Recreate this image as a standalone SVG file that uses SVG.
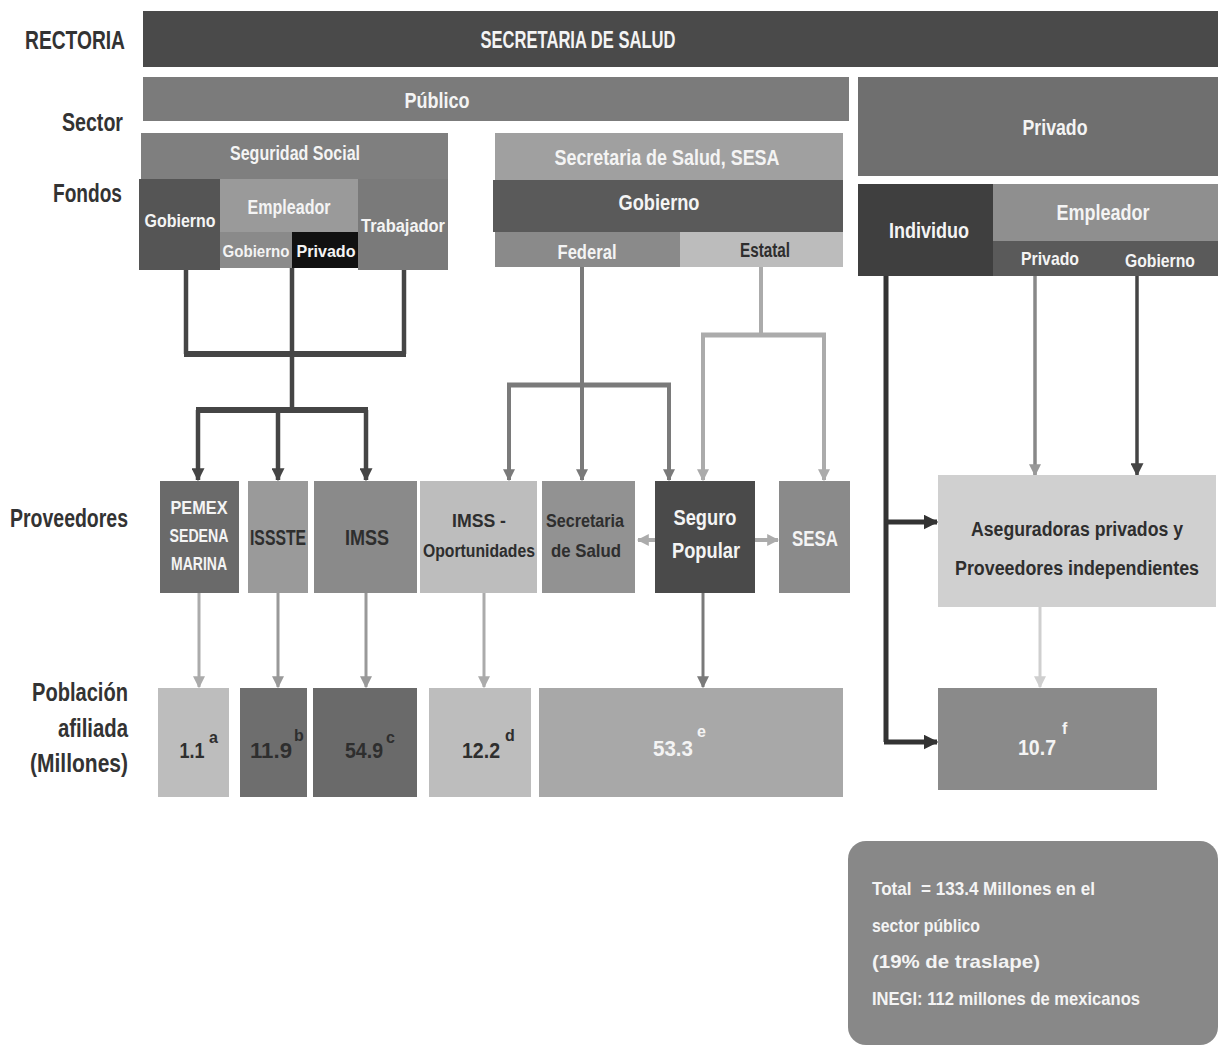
<svg xmlns="http://www.w3.org/2000/svg" width="1220" height="1047" viewBox="0 0 1220 1047">
<style>
text{font-family:"Liberation Sans",Arial,sans-serif;text-anchor:middle;font-weight:bold}
.w{fill:#f4f4f4}
.d{fill:#2e2e2e}
.lbl{fill:#333;font-size:26px;text-anchor:end}
.s{text-anchor:start}
.c{fill:none}
</style>
<defs>
<marker id="aD" viewBox="0 0 10 10" refX="9" refY="5" markerWidth="13" markerHeight="13" markerUnits="userSpaceOnUse" orient="auto"><path d="M0,0 L10,5 L0,10 z" fill="#454545"/></marker>
<marker id="aK" viewBox="0 0 10 10" refX="9" refY="5" markerWidth="15" markerHeight="15" markerUnits="userSpaceOnUse" orient="auto"><path d="M0,0 L10,5 L0,10 z" fill="#333"/></marker>
<marker id="aM" viewBox="0 0 10 10" refX="9" refY="5" markerWidth="12" markerHeight="12" markerUnits="userSpaceOnUse" orient="auto"><path d="M0,0 L10,5 L0,10 z" fill="#7a7a7a"/></marker>
<marker id="aG" viewBox="0 0 10 10" refX="9" refY="5" markerWidth="12" markerHeight="12" markerUnits="userSpaceOnUse" orient="auto"><path d="M0,0 L10,5 L0,10 z" fill="#999"/></marker>
<marker id="aL" viewBox="0 0 10 10" refX="9" refY="5" markerWidth="12" markerHeight="12" markerUnits="userSpaceOnUse" orient="auto"><path d="M0,0 L10,5 L0,10 z" fill="#ababab"/></marker>
<marker id="aX" viewBox="0 0 10 10" refX="9" refY="5" markerWidth="12" markerHeight="12" markerUnits="userSpaceOnUse" orient="auto"><path d="M0,0 L10,5 L0,10 z" fill="#cfcfcf"/></marker>
</defs>
<rect width="1220" height="1047" fill="#ffffff"/>

<g id="row-labels">
<text class="lbl" x="125" y="49" textLength="100" lengthAdjust="spacingAndGlyphs">RECTORIA</text>
<text class="lbl" x="123" y="131" textLength="61" lengthAdjust="spacingAndGlyphs">Sector</text>
<text class="lbl" x="122" y="202" textLength="69" lengthAdjust="spacingAndGlyphs">Fondos</text>
<text class="lbl" x="128" y="527" textLength="118" lengthAdjust="spacingAndGlyphs">Proveedores</text>
<text class="lbl" x="128" y="701" textLength="96" lengthAdjust="spacingAndGlyphs">Población</text>
<text class="lbl" x="128" y="737" textLength="70" lengthAdjust="spacingAndGlyphs">afiliada</text>
<text class="lbl" x="128" y="772" textLength="98" lengthAdjust="spacingAndGlyphs">(Millones)</text>
</g>

<g id="connectors">
<g stroke="#454545" stroke-width="4.5" class="c">
<path class="c" d="M186,270 V354"/>
<path class="c" d="M404,270 V354"/>
<path class="c" d="M292,268 V410"/>
<path class="c" d="M184,354 H406" stroke-width="6"/>
<path class="c" d="M196,410 H368" stroke-width="6"/>
<path class="c" d="M198,410 V480" marker-end="url(#aD)"/>
<path class="c" d="M278,410 V480" marker-end="url(#aD)"/>
<path class="c" d="M366,410 V480" marker-end="url(#aD)"/>
</g>
<g stroke="#7a7a7a" stroke-width="4" class="c">
<path class="c" d="M582,267 V480" marker-end="url(#aM)"/>
<path class="c" d="M507,385 H671" stroke-width="5"/>
<path class="c" d="M509,385 V480" marker-end="url(#aM)"/>
<path class="c" d="M669,385 V480" marker-end="url(#aM)"/>
</g>
<g stroke="#ababab" stroke-width="4" class="c">
<path class="c" d="M761,267 V335"/>
<path class="c" d="M701,335 H826" stroke-width="5"/>
<path class="c" d="M703,335 V480" marker-end="url(#aL)"/>
<path class="c" d="M824,335 V480" marker-end="url(#aL)"/>
<path class="c" d="M655,540 H638" marker-end="url(#aL)"/>
<path class="c" d="M755,540 H778" marker-end="url(#aL)"/>
</g>
<g stroke="#333" stroke-width="5" class="c">
<path class="c" d="M886,276 V742"/>
<path class="c" d="M884,522 H937" marker-end="url(#aK)"/>
<path class="c" d="M884,742 H937" marker-end="url(#aK)"/>
</g>
<path class="c" d="M1035,276 V475" stroke="#888" stroke-width="3.5" marker-end="url(#aG)"/>
<path class="c" d="M1137,276 V475" stroke="#444" stroke-width="3.5" marker-end="url(#aD)"/>
<path class="c" d="M1040,607 V687" stroke="#cfcfcf" stroke-width="3" marker-end="url(#aX)"/>
<path class="c" d="M199,593 V687" stroke="#ababab" stroke-width="3" marker-end="url(#aL)"/>
<path class="c" d="M278,593 V687" stroke="#999" stroke-width="3" marker-end="url(#aG)"/>
<path class="c" d="M366,593 V687" stroke="#999" stroke-width="3" marker-end="url(#aG)"/>
<path class="c" d="M484,593 V687" stroke="#ababab" stroke-width="3" marker-end="url(#aL)"/>
<path class="c" d="M703,593 V687" stroke="#7a7a7a" stroke-width="3" marker-end="url(#aM)"/>
</g>

<g id="rectoria"><rect x="143" y="11" width="1075" height="56" fill="#4a4a4a"/><text class="w" x="578" y="48" font-size="24" textLength="195" lengthAdjust="spacingAndGlyphs">SECRETARIA DE SALUD</text></g>
<g id="publico"><rect x="143" y="77" width="706" height="44" fill="#7b7b7b"/><text class="w" x="437" y="108" font-size="22" textLength="65" lengthAdjust="spacingAndGlyphs">Público</text></g>
<g id="privado"><rect x="858" y="77" width="360" height="99" fill="#6f6f6f"/><text class="w" x="1055" y="135" font-size="22" textLength="65" lengthAdjust="spacingAndGlyphs">Privado</text></g>

<g id="seguridad-social"><rect x="141" y="133" width="307" height="47" fill="#7f7f7f"/><text class="w" x="295" y="160" font-size="20" textLength="130" lengthAdjust="spacingAndGlyphs">Seguridad Social</text></g>
<g id="ss-gobierno"><rect x="139" y="179" width="81" height="91" fill="#555"/><text class="w" x="180" y="227" font-size="18" textLength="71" lengthAdjust="spacingAndGlyphs">Gobierno</text></g>
<g id="ss-empleador"><rect x="220" y="179" width="138" height="53" fill="#9a9a9a"/><text class="w" x="289" y="214" font-size="20" textLength="83" lengthAdjust="spacingAndGlyphs">Empleador</text></g>
<g id="ss-emp-gobierno"><rect x="220" y="232" width="72" height="36" fill="#8a8a8a"/><text class="w" x="256" y="257" font-size="17" textLength="67" lengthAdjust="spacingAndGlyphs">Gobierno</text></g>
<g id="ss-emp-privado"><rect x="292" y="232" width="66" height="36" fill="#111"/><text class="w" x="326" y="257" font-size="17" textLength="59" lengthAdjust="spacingAndGlyphs">Privado</text></g>
<g id="ss-trabajador"><rect x="358" y="179" width="90" height="91" fill="#7a7a7a"/><text class="w" x="403" y="232" font-size="19" textLength="84" lengthAdjust="spacingAndGlyphs">Trabajador</text></g>

<g id="sesa-fondos"><rect x="495" y="133" width="348" height="47" fill="#a0a0a0"/><text class="w" x="667" y="165" font-size="22" textLength="225" lengthAdjust="spacingAndGlyphs">Secretaria de Salud, SESA</text></g>
<g id="sesa-gobierno"><rect x="493" y="180" width="350" height="52" fill="#5a5a5a"/><text class="w" x="659" y="210" font-size="22" textLength="81" lengthAdjust="spacingAndGlyphs">Gobierno</text></g>
<g id="federal"><rect x="495" y="232" width="185" height="35" fill="#8a8a8a"/><text class="w" x="587" y="259" font-size="20" textLength="59" lengthAdjust="spacingAndGlyphs">Federal</text></g>
<g id="estatal"><rect x="680" y="232" width="163" height="35" fill="#bcbcbc"/><text class="d" x="765" y="257" font-size="20" textLength="50" lengthAdjust="spacingAndGlyphs">Estatal</text></g>

<g id="individuo"><rect x="858" y="184" width="135" height="92" fill="#3f3f3f"/><text class="w" x="929" y="238" font-size="22" textLength="80" lengthAdjust="spacingAndGlyphs">Individuo</text></g>
<g id="priv-empleador"><rect x="993" y="184" width="225" height="57" fill="#8f8f8f"/><text class="w" x="1103" y="220" font-size="22" textLength="93" lengthAdjust="spacingAndGlyphs">Empleador</text></g>
<g id="priv-emp-privado"><rect x="993" y="241" width="107" height="35" fill="#5a5a5a"/><text class="w" x="1050" y="265" font-size="19" textLength="58" lengthAdjust="spacingAndGlyphs">Privado</text></g>
<g id="priv-emp-gobierno"><rect x="1100" y="241" width="118" height="35" fill="#5a5a5a"/><text class="w" x="1160" y="267" font-size="19" textLength="70" lengthAdjust="spacingAndGlyphs">Gobierno</text></g>

<g id="pemex"><rect x="160" y="481" width="79" height="112" fill="#6a6a6a"/>
<text class="w" x="199" y="514" font-size="18" textLength="57" lengthAdjust="spacingAndGlyphs">PEMEX</text>
<text class="w" x="199" y="542" font-size="18" textLength="59" lengthAdjust="spacingAndGlyphs">SEDENA</text>
<text class="w" x="199" y="570" font-size="18" textLength="56" lengthAdjust="spacingAndGlyphs">MARINA</text></g>
<g id="issste"><rect x="248" y="481" width="60" height="112" fill="#9a9a9a"/><text class="d" x="278" y="545" font-size="22" textLength="56" lengthAdjust="spacingAndGlyphs">ISSSTE</text></g>
<g id="imss"><rect x="314" y="481" width="103" height="112" fill="#8a8a8a"/><text class="d" x="367" y="545" font-size="22" textLength="44" lengthAdjust="spacingAndGlyphs">IMSS</text></g>
<g id="imss-oportunidades"><rect x="420" y="481" width="117" height="112" fill="#bdbdbd"/>
<text class="d" x="479" y="527" font-size="19" textLength="54" lengthAdjust="spacingAndGlyphs">IMSS -</text>
<text class="d" x="479" y="557" font-size="18" textLength="112" lengthAdjust="spacingAndGlyphs">Oportunidades</text></g>
<g id="secretaria-salud"><rect x="542" y="481" width="93" height="112" fill="#929292"/>
<text class="d" x="585" y="527" font-size="19" textLength="78" lengthAdjust="spacingAndGlyphs">Secretaria</text>
<text class="d" x="586" y="557" font-size="19" textLength="70" lengthAdjust="spacingAndGlyphs">de Salud</text></g>
<g id="seguro-popular"><rect x="655" y="481" width="100" height="112" fill="#4a4a4a"/>
<text class="w" x="705" y="525" font-size="22" textLength="63" lengthAdjust="spacingAndGlyphs">Seguro</text>
<text class="w" x="706" y="558" font-size="22" textLength="68" lengthAdjust="spacingAndGlyphs">Popular</text></g>
<g id="sesa"><rect x="779" y="481" width="71" height="112" fill="#8a8a8a"/><text class="w" x="815" y="546" font-size="22" textLength="46" lengthAdjust="spacingAndGlyphs">SESA</text></g>
<g id="aseguradoras"><rect x="938" y="475" width="278" height="132" fill="#d0d0d0"/>
<text class="d" x="1077" y="536" font-size="20" textLength="212" lengthAdjust="spacingAndGlyphs">Aseguradoras privados y</text>
<text class="d" x="1077" y="575" font-size="20" textLength="244" lengthAdjust="spacingAndGlyphs">Proveedores independientes</text></g>

<g id="pob-pemex"><rect x="158" y="688" width="71" height="109" fill="#bdbdbd"/><text class="d" x="192" y="758" font-size="22" textLength="25" lengthAdjust="spacingAndGlyphs">1.1</text><text class="d s" x="209" y="743" font-size="16">a</text></g>
<g id="pob-issste"><rect x="240" y="688" width="67" height="109" fill="#6e6e6e"/><text class="d" x="271" y="758" font-size="22" textLength="42" lengthAdjust="spacingAndGlyphs">11.9</text><text class="d s" x="294" y="741" font-size="16">b</text></g>
<g id="pob-imss"><rect x="313" y="688" width="104" height="109" fill="#6a6a6a"/><text class="d" x="364" y="758" font-size="22" textLength="38" lengthAdjust="spacingAndGlyphs">54.9</text><text class="d s" x="386" y="743" font-size="16">c</text></g>
<g id="pob-oportunidades"><rect x="429" y="688" width="102" height="109" fill="#bdbdbd"/><text class="d" x="481" y="758" font-size="22" textLength="38" lengthAdjust="spacingAndGlyphs">12.2</text><text class="d s" x="505" y="741" font-size="16">d</text></g>
<g id="pob-seguro-popular"><rect x="539" y="688" width="304" height="109" fill="#a8a8a8"/><text class="w" x="673" y="756" font-size="22" textLength="40" lengthAdjust="spacingAndGlyphs">53.3</text><text class="w s" x="697" y="737" font-size="16">e</text></g>
<g id="pob-privado"><rect x="938" y="688" width="219" height="102" fill="#8a8a8a"/><text class="w" x="1037" y="755" font-size="22" textLength="38" lengthAdjust="spacingAndGlyphs">10.7</text><text class="w s" x="1062" y="734" font-size="16">f</text></g>

<g id="total"><rect x="848" y="841" width="370" height="204" rx="18" fill="#888"/>
<text class="w s" x="872" y="895" font-size="19" textLength="223" lengthAdjust="spacingAndGlyphs">Total&#160; = 133.4 Millones en el</text>
<text class="w s" x="872" y="932" font-size="19" textLength="108" lengthAdjust="spacingAndGlyphs">sector público</text>
<text class="w s" x="872" y="968" font-size="19" textLength="168" lengthAdjust="spacingAndGlyphs">(19% de traslape)</text>
<text class="w s" x="872" y="1005" font-size="19" textLength="268" lengthAdjust="spacingAndGlyphs">INEGI: 112 millones de mexicanos</text>
</g>
</svg>
